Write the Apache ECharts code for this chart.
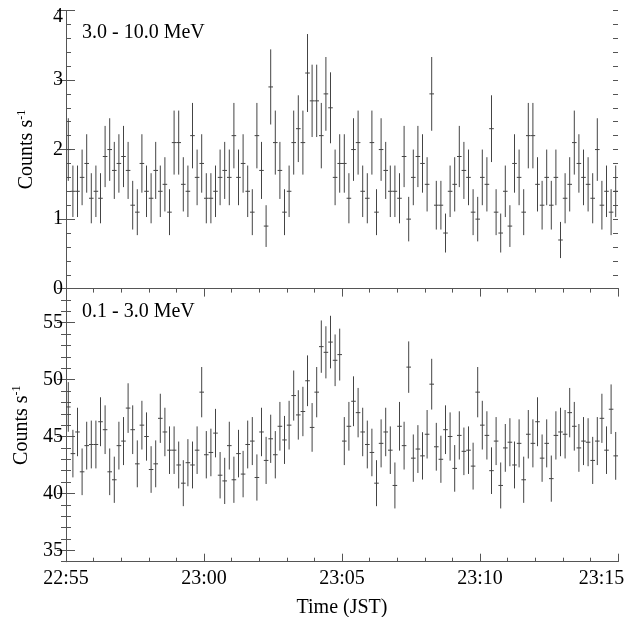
<!DOCTYPE html>
<html><head><meta charset="utf-8">
<script src="https://cdn.jsdelivr.net/npm/echarts@6/dist/echarts.min.js"></script>
<style>html,body{margin:0;padding:0;background:#fff}#c{width:638px;height:617px}</style>
</head><body><div id="c"></div>
<script>
// ---- data ----
const hiLabel = '3.0 - 10.0 MeV';
const loLabel = '0.1 - 3.0 MeV';
const binWidthSec = 10;               // 10 s bins starting 22:55:00
const xTickLabels = ['22:55', '23:00', '23:05', '23:10', '23:15'];
const hiTicks = [0, 1, 2, 3, 4];
const loTicks = [35, 40, 45, 50, 55];

const hiRate = [
  2.0,1.4,1.4,1.6,1.8,1.3,1.4,1.3,1.9,2.0,1.7,1.8,1.9,1.7,1.2,1.1,1.8,1.4,
  1.3,1.7,1.4,1.5,1.1,2.1,2.1,1.5,1.4,2.2,1.6,1.8,1.3,1.3,1.4,1.6,1.7,1.6,2.2,1.6,1.8,1.4,
  1.1,2.2,1.7,0.9,2.9,2.1,1.7,1.1,1.4,2.1,2.3,2.1,3.1,2.7,2.7,2.2,2.8,2.6,1.6,1.8,1.8,1.3,
  2.0,2.1,1.4,1.3,2.1,1.1,2.0,1.7,1.4,1.4,1.3,1.9,1.0,1.6,1.9,1.8,1.5,2.8,1.2,1.2,0.8,1.4,
  1.5,1.9,1.7,1.6,1.1,1.0,1.6,1.5,2.3,1.1,0.8,1.4,0.9,1.8,1.6,1.1,2.2,2.2,1.5,1.2,1.6,1.2,
  1.6,0.7,1.3,1.5,2.1,1.8,1.6,1.5,1.3,2.0,1.2,1.4,1.1,1.4
];
const hiErr = [
  .45,.37,.37,.40,.42,.36,.37,.36,.44,.45,.41,.42,.44,.41,.35,.33,.42,.37,
  .36,.41,.37,.39,.33,.46,.46,.39,.37,.47,.40,.42,.36,.36,.37,.40,.41,.40,.47,.40,.42,.37,
  .33,.47,.41,.30,.54,.46,.41,.33,.37,.46,.48,.46,.56,.52,.52,.47,.53,.51,.40,.42,.42,.36,
  .45,.46,.37,.36,.46,.33,.45,.41,.37,.37,.36,.44,.32,.40,.44,.42,.39,.53,.35,.35,.28,.37,
  .39,.44,.41,.40,.33,.32,.40,.39,.48,.33,.28,.37,.30,.42,.40,.33,.47,.47,.39,.35,.40,.35,
  .40,.26,.36,.39,.46,.42,.40,.39,.36,.45,.35,.37,.33,.37
];
const loRate = [
  47.6,43.5,45.4,41.9,44.2,44.3,44.3,46.3,45.6,41.9,41.2,44.2,44.6,47.5,45.6,42.6,46.0,45.0,
  42.1,42.6,46.6,45.4,43.8,43.8,42.5,40.9,42.7,42.5,43.8,48.9,43.4,43.6,45.3,41.6,41.1,44.2,41.2,43.5,41.7,44.3,
  44.6,41.4,45.4,42.9,44.8,43.4,45.9,44.7,46.0,48.6,46.9,47.2,49.9,45.8,48.9,52.9,52.4,53.3,51.7,52.2,44.6,45.9,
  48.1,47.1,45.4,44.3,43.6,40.9,44.4,45.4,43.8,40.7,45.9,44.2,51.1,43.1,43.9,43.3,45.2,49.6,44.1,43.0,45.6,45.0,
  42.2,45.1,43.7,43.8,42.4,48.9,46.0,45.1,42.0,44.6,40.7,44.0,44.5,42.5,44.4,41.2,45.2,44.4,46.3,43.1,44.4,41.3,
  45.1,45.4,45.2,47.1,45.9,44.0,44.6,44.5,42.9,44.6,46.6,43.8,47.4,43.3
];
const loErr = [
  2.18,2.09,2.13,2.05,2.10,2.10,2.10,2.15,2.14,2.05,2.03,2.10,2.11,2.18,2.14,2.06,2.14,2.12,
  2.05,2.06,2.16,2.13,2.09,2.09,2.06,2.02,2.07,2.06,2.09,2.21,2.08,2.09,2.13,2.04,2.03,2.10,2.03,2.09,2.04,2.10,
  2.11,2.03,2.13,2.07,2.12,2.08,2.14,2.11,2.14,2.20,2.17,2.17,2.23,2.14,2.21,2.30,2.29,2.31,2.27,2.28,2.11,2.14,
  2.19,2.17,2.13,2.10,2.09,2.02,2.11,2.13,2.09,2.02,2.14,2.10,2.26,2.08,2.10,2.08,2.13,2.23,2.10,2.07,2.14,2.12,
  2.05,2.12,2.09,2.09,2.06,2.21,2.14,2.12,2.05,2.11,2.02,2.10,2.11,2.06,2.11,2.03,2.13,2.11,2.15,2.08,2.11,2.03,
  2.12,2.13,2.13,2.17,2.14,2.10,2.11,2.11,2.07,2.11,2.16,2.09,2.18,2.10
];

// ---- chart ----
const FONT = 'Liberation Serif';
const AX = '#555';
const BAR = '#444';
const tMax = (xTickLabels.length - 1) * 300;

function toData(rate, err) {
  return rate.map((v, i) => [(i + 0.5) * binWidthSec, v, err[i]]);
}
function renderErr(params, api) {
  const t = api.value(0), v = api.value(1), e = api.value(2);
  const hw = binWidthSec / 2;
  const lo = api.coord([t, v - e]), hi = api.coord([t, v + e]);
  const l = api.coord([t - hw, v]), r = api.coord([t + hw, v]);
  const st = { stroke: BAR, lineWidth: 1 };
  return { type: 'group', children: [
    { type: 'line', shape: { x1: lo[0], y1: lo[1], x2: hi[0], y2: hi[1] }, style: st },
    { type: 'line', shape: { x1: l[0], y1: l[1], x2: r[0], y2: r[1] }, style: st }
  ]};
}
const lineStyle = { color: AX, width: 1 };
const labelStyle = { fontFamily: FONT, fontSize: 20, color: '#000' };
const nameRich = {
  rich: {
    a: { fontFamily: FONT, fontSize: 20, color: '#000', lineHeight: 22 },
    b: { fontFamily: FONT, fontSize: 12, color: '#000', lineHeight: 13, verticalAlign: 'top' }
  }
};
const off = { show: false };

function xAx(grid, pos, interval, tickLen, showLine) {
  return {
    type: 'value', gridIndex: grid, position: pos, min: 0, max: tMax, interval: interval, offset: 0,
    axisLine: { show: showLine, lineStyle },
    axisTick: { show: tickLen > 0, inside: true, length: tickLen, lineStyle },
    axisLabel: off, splitLine: off
  };
}
function yAx(grid, pos, min, max, interval, tickLen, showLine, custom) {
  const a = {
    type: 'value', gridIndex: grid, position: pos, min: min, max: max, offset: 0,
    axisLine: { show: showLine, lineStyle },
    axisTick: { show: true, inside: true, length: tickLen, lineStyle },
    axisLabel: off, splitLine: off
  };
  if (interval) a.interval = interval;
  if (custom) a.axisTick.customValues = custom;
  return a;
}

const xMainLo = xAx(1, 'bottom', 300, 8, true);
xMainLo.axisLabel = { show: true, margin: 7, ...labelStyle,
  formatter: v => {
    const k = Math.round(v / 300);
    return k === xTickLabels.length - 1 ? '{e|' + xTickLabels[k] + '}' : xTickLabels[k];
  },
  rich: { e: { fontFamily: FONT, fontSize: 20, color: '#000', padding: [0, 33, 0, 0] } } };
xMainLo.name = 'Time (JST)';
xMainLo.nameLocation = 'middle';
xMainLo.nameGap = 36;
xMainLo.nameTextStyle = { fontFamily: FONT, fontSize: 20, color: '#000' };

const yMainHi = yAx(0, 'left', hiTicks[0], hiTicks[hiTicks.length - 1], 1, 9, true);
yMainHi.axisLabel = { show: true, margin: 3, ...labelStyle,
  formatter: v => v === hiTicks[hiTicks.length - 1] ? '{t|' + v + '}' : String(v),
  rich: { t: { fontFamily: FONT, fontSize: 20, color: '#000', padding: [12, 0, 0, 0] } } };
Object.assign(yMainHi, { name: '{a|Counts s}{b|-1}', nameLocation: 'middle', nameGap: 28, nameTextStyle: nameRich });

const yMainLo = yAx(1, 'left', 34, 58, null, 9, true, loTicks);
yMainLo.axisLabel = { show: true, margin: 3, ...labelStyle, customValues: loTicks };
Object.assign(yMainLo, { name: '{a|Counts s}{b|-1}', nameLocation: 'middle', nameGap: 28, nameTextStyle: nameRich });

const option = {
  animation: false,
  backgroundColor: '#fff',
  grid: [
    { left: 66, width: 552, top: 10.4, height: 278.3, containLabel: false, outerBoundsMode: 'none' },
    { left: 66, width: 552, top: 288.6, height: 273.1, containLabel: false, outerBoundsMode: 'none' }
  ],
  title: [
    { text: hiLabel, left: 82, top: 23, padding: 0,
      textStyle: { fontFamily: FONT, fontSize: 20, fontWeight: 'normal', color: '#000' } },
    { text: loLabel, left: 82, top: 302, padding: 0,
      textStyle: { fontFamily: FONT, fontSize: 20, fontWeight: 'normal', color: '#000' } }
  ],
  xAxis: [
    xAx(0, 'bottom', 300, 0, true),   // 0 top panel frame bottom
    xAx(0, 'top', 300, 0, true),      // 1 top panel frame top
    xMainLo,                          // 2 bottom panel, labelled
    xAx(1, 'top', 300, 8, true),      // 3
    xAx(1, 'bottom', 60, 4, false),   // 4 minor
    xAx(1, 'top', 60, 4, false)       // 5 minor
  ],
  yAxis: [
    yMainHi,                                   // 0
    yAx(0, 'right', 0, 4, 1, 9, true),         // 1
    yAx(0, 'left', 0, 4, 0.2, 5, false),       // 2 minor
    yAx(0, 'right', 0, 4, 0.2, 5, false),      // 3 minor
    yMainLo,                                   // 4
    yAx(1, 'right', 34, 58, null, 9, true, loTicks), // 5
    yAx(1, 'left', 34, 58, 1, 5, false),       // 6 minor
    yAx(1, 'right', 34, 58, 1, 5, false)       // 7 minor
  ],
  series: [
    { type: 'custom', xAxisIndex: 0, yAxisIndex: 0, renderItem: renderErr,
      data: toData(hiRate, hiErr), encode: { x: 0, y: 1 }, silent: true },
    { type: 'custom', xAxisIndex: 2, yAxisIndex: 4, renderItem: renderErr,
      data: toData(loRate, loErr), encode: { x: 0, y: 1 }, silent: true }
  ]
};
const chart = echarts.init(document.getElementById('c'), null, { renderer: 'canvas' });
chart.setOption(option);
</script>
</body></html>
